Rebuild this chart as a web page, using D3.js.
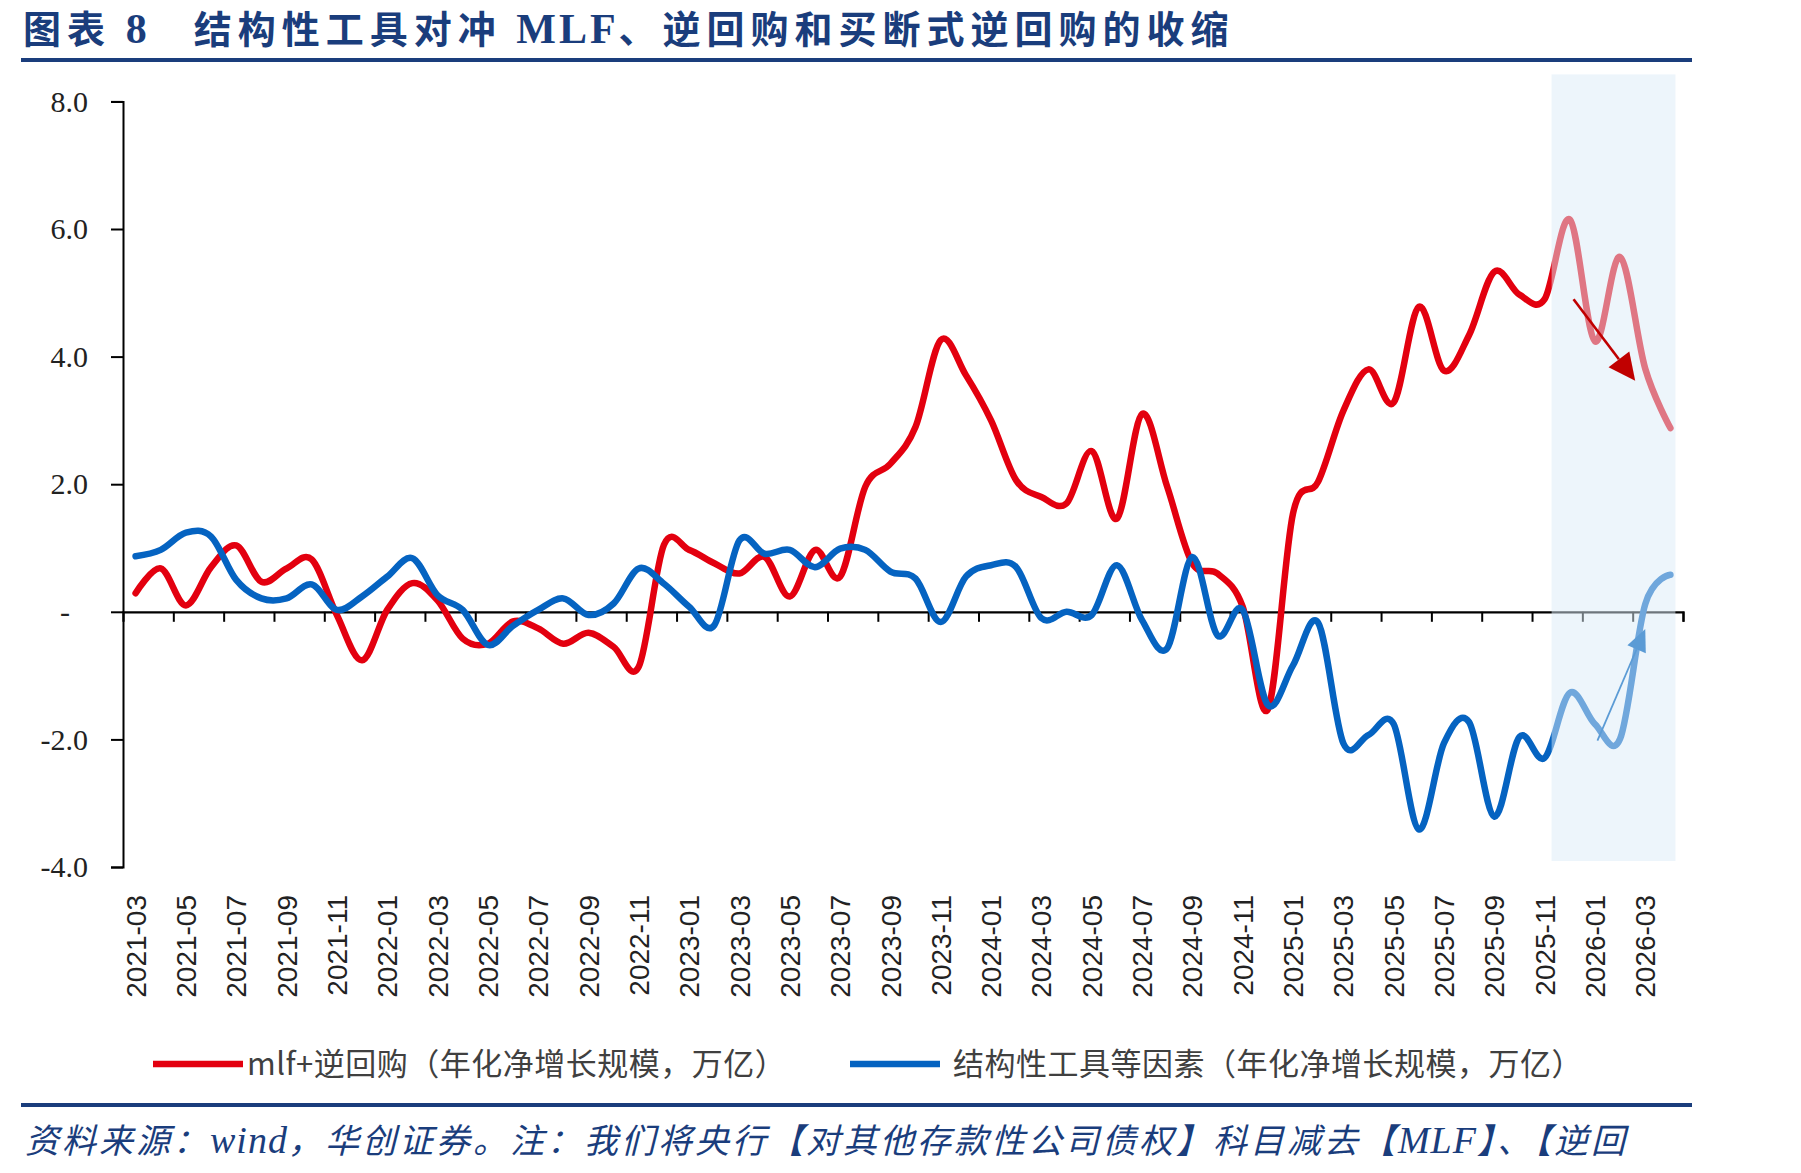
<!DOCTYPE html>
<html>
<head>
<meta charset="utf-8">
<script src="https://cdn.jsdelivr.net/npm/d3@7"></script>
<style>
  body { margin: 0; background: #fff; }
  svg { display: block; }
</style>
</head>
<body>
<script>
// months, one point per month
var months = ["2021-03","2021-04","2021-05","2021-06","2021-07","2021-08","2021-09","2021-10","2021-11","2021-12",
  "2022-01","2022-02","2022-03","2022-04","2022-05","2022-06","2022-07","2022-08","2022-09","2022-10","2022-11","2022-12",
  "2023-01","2023-02","2023-03","2023-04","2023-05","2023-06","2023-07","2023-08","2023-09","2023-10","2023-11","2023-12",
  "2024-01","2024-02","2024-03","2024-04","2024-05","2024-06","2024-07","2024-08","2024-09","2024-10","2024-11","2024-12",
  "2025-01","2025-02","2025-03","2025-04","2025-05","2025-06","2025-07","2025-08","2025-09","2025-10","2025-11","2025-12",
  "2026-01","2026-02","2026-03","2026-04"]

// mlf + 逆回购 (年化净增长规模, 万亿)
var mlfRepo = [0.29,0.68,0.10,0.70,1.04,0.47,0.68,0.82,-0.05,-0.76,
  0.03,0.45,0.18,-0.42,-0.50,-0.15,-0.26,-0.50,-0.33,-0.55,-0.86,1.05,
  0.97,0.76,0.60,0.86,0.24,0.97,0.55,1.96,2.32,2.90,4.26,3.71,
  3.00,2.06,1.80,1.70,2.52,1.46,3.10,1.96,0.76,0.60,0.08,-1.53,
  1.54,2.04,3.15,3.80,3.28,4.78,3.78,4.34,5.33,4.97,4.90,6.15,
  4.24,5.56,3.81,2.88]

// 结构性工具等因素 (年化净增长规模, 万亿)
var structTools = [0.87,0.97,1.24,1.18,0.50,0.21,0.21,0.43,0.03,0.24,
  0.55,0.84,0.26,0.03,-0.52,-0.22,0.03,0.21,-0.05,0.13,0.68,0.44,
  0.08,-0.21,1.12,0.91,0.97,0.70,0.99,0.97,0.63,0.52,-0.16,0.55,
  0.73,0.70,-0.10,0.00,-0.05,0.73,-0.13,-0.57,0.86,-0.37,0.03,-1.46,
  -0.84,-0.17,-2.06,-1.93,-1.76,-3.41,-2.06,-1.73,-3.21,-1.96,-2.29,-1.27,
  -1.76,-1.99,0.12,0.58]

var yTicks = [-4, -2, 0, 2, 4, 6, 8]
var seriesNames = ["mlf+逆回购（年化净增长规模，万亿）", "结构性工具等因素（年化净增长规模，万亿）"]
var shadeFrom = "2025-11", shadeTo = "2026-04"
// trend arrows, in month-index units and values
var arrowDown = [[57.65, 4.9], [60.1, 3.62]]
var arrowUp = [[58.6, -2.02], [60.5, -0.27]]

// text pieces; latin: true -> set in the serif face
var titleParts = [
  {t: "图表 "}, {t: "8", latin: true}, {t: "\u2003结构性工具对冲 "},
  {t: "MLF", latin: true}, {t: "、逆回购和买断式逆回购的收缩"}
]
var noteParts = [
  {t: "资料来源："}, {t: "wind", latin: true}, {t: "，华创证券。注：我们将央行【对其他存款性公司债权】科目减去【"},
  {t: "MLF", latin: true}, {t: "】、【逆回"}
]

var W = 1801, H = 1173
var navy = "#1a3d7c"
var red = "#e3000f", blue = "#0563c1"

var svg = d3.select("body").append("svg")
    .attr("width", W)
    .attr("height", H)

// title + rules
svg.append("text")
    .attr("x", 23).attr("y", 43)
    .attr("fill", navy)
    .style("font-weight", 700)
    .selectAll("tspan")
    .data(titleParts)
    .join("tspan")
    .style("font-family", function(d) { return d.latin ? "'Liberation Serif', serif" : "'Noto Sans CJK SC', sans-serif" })
    .style("font-size", function(d) { return d.latin ? "42px" : "38px" })
    .style("letter-spacing", function(d) { return d.latin ? "3px" : "6px" })
    .text(function(d) { return d.t })
svg.append("rect").attr("x", 21).attr("y", 58).attr("width", 1671).attr("height", 4).attr("fill", navy)
svg.append("rect").attr("x", 21).attr("y", 1103).attr("width", 1671).attr("height", 4).attr("fill", navy)

// scales
var plot = {left: 123, right: 1683, top: 101.4, bottom: 867}
var x = d3.scaleBand().domain(months).range([plot.left, plot.right])
var xi = d3.scaleLinear().domain([0, months.length]).range([plot.left, plot.right])
var y = d3.scaleLinear().domain([-4, 8]).range([plot.bottom, plot.top])
var cx = function(m) { return x(m) + x.bandwidth() / 2 }

// y axis
var yAxis = d3.axisLeft(y)
    .tickValues(yTicks)
    .tickSize(12)
    .tickPadding(23)
    .tickFormat(function(d) { return d === 0 ? "-" : d.toFixed(1) })
var gy = svg.append("g")
    .attr("transform", "translate(" + plot.left + ",0)")
    .call(yAxis)
gy.select(".domain").attr("stroke", "#000").attr("stroke-width", 2)
gy.selectAll(".tick line").attr("stroke", "#000").attr("stroke-width", 2)
gy.selectAll(".tick text")
    .attr("fill", "#222")
    .style("font-family", "'Liberation Serif', serif")
    .style("font-size", "30px")
    .attr("dx", function(d) { return d === 0 ? -18 : 0 })

// x axis at zero: ticks every 2 months on category boundaries
var xAxis = d3.axisBottom(xi)
    .tickValues(d3.range(2, months.length + 1, 2))
    .tickSize(10)
    .tickFormat("")
var gx = svg.append("g")
    .attr("transform", "translate(0," + y(0) + ")")
    .call(xAxis)
gx.select(".domain").attr("stroke", "#000").attr("stroke-width", 2.2)
gx.selectAll(".tick line").attr("stroke", "#000").attr("stroke-width", 2)

// category labels at the bottom, rotated
var labelMonths = months.filter(function(d, i) { return i % 2 === 0 })
svg.append("g").selectAll("text")
    .data(labelMonths)
    .join("text")
    .attr("transform", function(d) { return "translate(" + cx(d) + "," + (plot.bottom + 28) + ") rotate(-90)" })
    .attr("text-anchor", "end")
    .attr("dy", "0.36em")
    .attr("fill", "#222")
    .style("font-family", "'Liberation Sans', Arial, sans-serif")
    .style("font-size", "28px")
    .text(function(d) { return d })

// lines
var line = d3.line()
    .x(function(d) { return cx(d[0]) })
    .y(function(d) { return y(d[1]) })
    .curve(d3.curveCardinal.tension(0))

svg.append("path")
    .datum(d3.zip(months, mlfRepo))
    .attr("d", line)
    .attr("fill", "none")
    .attr("stroke", red)
    .attr("stroke-width", 6.5)
    .attr("stroke-linejoin", "round")
    .attr("stroke-linecap", "round")

svg.append("path")
    .datum(d3.zip(months, structTools))
    .attr("d", line)
    .attr("fill", "none")
    .attr("stroke", blue)
    .attr("stroke-width", 6.5)
    .attr("stroke-linejoin", "round")
    .attr("stroke-linecap", "round")

// translucent forecast box
svg.append("rect")
    .attr("x", cx(shadeFrom) + 7)
    .attr("y", plot.top - 27)
    .attr("width", cx(shadeTo) + 5 - (cx(shadeFrom) + 7))
    .attr("height", plot.bottom - 6 - (plot.top - 27))
    .attr("fill", "#dcebf8")
    .attr("opacity", 0.5)

// arrows
function arrow(pts, color, lw, headLen, headW) {
  var x0 = xi(pts[0][0]), y0 = y(pts[0][1])
  var x1 = xi(pts[1][0]), y1 = y(pts[1][1])
  var a = Math.atan2(y1 - y0, x1 - x0)
  var bx = x1 - headLen * Math.cos(a), by = y1 - headLen * Math.sin(a)
  svg.append("line")
      .attr("x1", x0).attr("y1", y0)
      .attr("x2", bx).attr("y2", by)
      .attr("stroke", color).attr("stroke-width", lw)
  var px = -Math.sin(a) * headW / 2, py = Math.cos(a) * headW / 2
  svg.append("polygon")
      .attr("points", [[x1, y1], [bx + px, by + py], [bx - px, by - py]].join(" "))
      .attr("fill", color)
}
arrow(arrowDown, "#c00000", 2.6, 27, 26)
arrow(arrowUp, "#5b9bd5", 1.8, 22, 20)

// legend
var legend = svg.append("g").attr("transform", "translate(0,1064)")
var legendItems = [
  {name: seriesNames[0], color: red, x: 153, gap: 94},
  {name: seriesNames[1], color: blue, x: 850, gap: 103}
]
legendItems.forEach(function(it) {
  legend.append("line")
      .attr("x1", it.x).attr("x2", it.x + 90)
      .attr("stroke", it.color).attr("stroke-width", 6.5)
  legend.append("text")
      .attr("x", it.x + it.gap).attr("dy", "0.35em")
      .attr("fill", "#404040")
      .style("font-family", "'Noto Sans CJK SC', sans-serif")
      .style("font-size", "31px")
      .style("letter-spacing", "0.5px")
      .text(it.name)
})

// source note
svg.append("text")
    .attr("x", 25).attr("y", 1153)
    .attr("fill", navy)
    .style("font-style", "italic")
    .selectAll("tspan")
    .data(noteParts)
    .join("tspan")
    .style("font-family", function(d) { return d.latin ? "'Liberation Serif', serif" : "'Noto Sans CJK SC', sans-serif" })
    .style("font-size", function(d) { return d.latin ? "38px" : "34px" })
    .style("letter-spacing", function(d) { return d.latin ? "1px" : "3px" })
    .text(function(d) { return d.t })
</script>
</body>
</html>
